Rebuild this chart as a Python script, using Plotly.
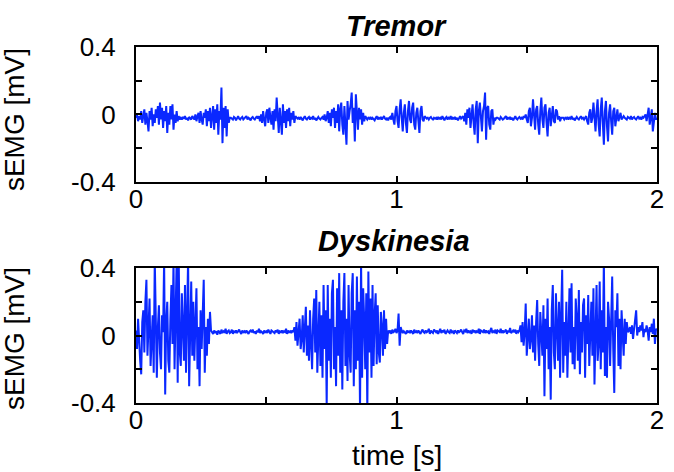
import numpy as np
import plotly.graph_objects as go
from plotly.subplots import make_subplots

# sampling interval of the read-off signals [s]
dt = 0.004

# Tremor sEMG [mV] (one value per dt)
tremor = [
    # burst 0.00-0.17 s
    -0.02, 0.00, -0.04, -0.01, -0.03, 0.02, -0.05, -0.01, 0.03, -0.06,
    0.01, -0.04, -0.10, 0.02, -0.03, 0.04, -0.07, 0.00, -0.05, 0.03,
    -0.02, 0.05, -0.06, 0.07, -0.03, 0.04, -0.08, 0.02, -0.04, 0.05,
    -0.11, 0.01, -0.06, 0.05, -0.03, 0.06, -0.09, 0.00, -0.05, 0.02,
    -0.04, -0.01, -0.03,
    # quiet
    -0.02, -0.03, -0.015, -0.025, -0.01, -0.03, -0.02, -0.035, -0.015, -0.02,
    -0.03, -0.01, -0.025,
    # burst 0.22-0.36 s
    -0.03, 0.00, -0.04, -0.01, 0.01, -0.05, 0.02, -0.03, -0.06, 0.01,
    -0.02, 0.03, -0.07, 0.02, -0.04, 0.04, -0.08, -0.01, 0.05, -0.09,
    0.03, -0.05, 0.06, -0.12, 0.02, -0.03, 0.16, -0.17, 0.04, -0.08,
    0.05, -0.13, 0.03, -0.05, -0.02,
    # quiet
    -0.02, -0.025, -0.03, -0.015, -0.02, -0.035, -0.02, -0.01, -0.025, -0.03,
    -0.02, -0.015, -0.03, -0.025, -0.02, -0.01, -0.03, -0.02, -0.025, -0.035,
    -0.02, -0.015, -0.025, -0.03, -0.02, -0.01, -0.025,
    # burst 0.47-0.62 s
    -0.01, -0.04, 0.00, -0.05, 0.02, -0.03, -0.07, 0.01, 0.03, -0.05,
    0.04, -0.02, -0.06, 0.02, -0.09, 0.03, -0.04, 0.10, -0.03, -0.11,
    0.04, -0.02, -0.12, 0.06, -0.05, 0.02, -0.08, 0.03, -0.04, 0.04,
    -0.07, 0.01, -0.03, 0.02, -0.05, -0.01, -0.02,
    # quiet
    -0.025, -0.02, -0.03, -0.015, -0.025, -0.035, -0.02, -0.01, -0.025, -0.03,
    -0.02, -0.015, -0.03, -0.02, -0.025, -0.01, -0.03, -0.02, -0.035, -0.02,
    -0.015, -0.025, -0.03, -0.02, -0.015,
    # burst 0.72-0.88 s
    -0.03, 0.00, -0.04, -0.02, 0.02, -0.05, 0.01, -0.07, 0.03, -0.02,
    0.04, -0.08, 0.02, -0.05, 0.06, -0.10, 0.03, 0.07, -0.06, -0.12,
    0.05, -0.04, -0.18, 0.08, -0.03, 0.02, 0.06, 0.13, -0.05, 0.04,
    -0.16, 0.12, -0.02, -0.09, 0.04, -0.03, 0.03, -0.06, 0.01, -0.04,
    -0.01,
    # quiet
    -0.02, -0.03, -0.02, -0.025, -0.015, -0.03, -0.02, -0.025, -0.035, -0.02,
    -0.01, -0.03, -0.02, -0.025, -0.015, -0.03, -0.02, -0.01, -0.025, -0.03,
    -0.02, -0.035, -0.02, -0.015, -0.03,
    # burst 0.98-1.11 s
    0.01, -0.03, -0.06, 0.02, 0.05, -0.04, -0.08, 0.03, 0.09, -0.02,
    -0.10, 0.01, 0.06, -0.05, -0.11, 0.02, 0.08, -0.03, -0.05, 0.04,
    0.07, -0.06, -0.09, 0.01, 0.04, -0.04, -0.11, 0.02, 0.05, -0.03,
    -0.04, -0.01, -0.02,
    # quiet
    -0.025, -0.02, -0.03, -0.02, -0.015, -0.025, -0.03, -0.02, -0.025, -0.02,
    -0.03, -0.015, -0.025, -0.02, -0.03, -0.01, -0.025, -0.035, -0.02, -0.015,
    -0.03, -0.02, -0.025, -0.01, -0.03, -0.02, -0.025, -0.015, -0.03, -0.02,
    -0.035, -0.02, -0.01, -0.025, -0.02,
    # burst 1.26-1.38 s
    -0.01, -0.04, 0.01, -0.06, 0.03, -0.02, 0.04, -0.08, 0.02, 0.06,
    -0.05, -0.12, 0.03, 0.08, -0.17, 0.02, 0.07, -0.04, -0.10, 0.02,
    0.05, 0.13, -0.15, 0.04, 0.05, -0.06, -0.09, 0.02, 0.03, -0.06,
    -0.02, -0.03, -0.02,
    # quiet
    -0.02, -0.025, -0.03, -0.015, -0.02, -0.03, -0.025, -0.02, -0.01, -0.03,
    -0.02, -0.025, -0.015, -0.03, -0.02, -0.035, -0.02, -0.01, -0.025, -0.03,
    -0.02, -0.015, -0.025, -0.02, -0.03, -0.01, -0.02,
    # burst 1.50-1.64 s
    0.00, -0.03, -0.05, 0.02, 0.04, -0.07, -0.02, 0.09, -0.04, -0.09,
    0.03, 0.05, -0.06, -0.12, 0.02, 0.10, -0.03, -0.08, 0.04, 0.06,
    -0.05, -0.13, 0.01, 0.04, -0.07, 0.02, 0.05, -0.04, -0.05, 0.03,
    0.02, -0.03, -0.01, -0.04, -0.02, -0.02,
    # quiet
    -0.02, -0.03, -0.02, -0.025, -0.015, -0.03, -0.02, -0.025, -0.01, -0.03,
    -0.02, -0.035, -0.02, -0.015, -0.025, -0.03, -0.02, -0.01, -0.025, -0.02,
    -0.03, -0.02,
    # burst 1.73-1.87 s
    -0.01, -0.04, -0.06, 0.01, 0.03, -0.05, -0.02, 0.07, -0.04, -0.10,
    0.02, 0.09, -0.06, -0.13, 0.03, 0.10, -0.05, -0.18, 0.02, 0.08,
    -0.07, -0.16, 0.01, 0.06, -0.04, -0.12, 0.02, 0.04, -0.07, -0.02,
    0.03, -0.04, -0.02, 0.01, -0.03, -0.02, -0.01,
    # quiet
    -0.02, -0.025, -0.03, -0.015, -0.02, -0.025, -0.01, -0.03, -0.02, -0.015,
    -0.025, -0.03, -0.02, -0.01, -0.025, -0.02, -0.03, -0.015, -0.02, -0.01,
    # end
    0.00, -0.04, 0.02, 0.04, -0.06, -0.02, 0.03, -0.10, -0.04, 0.01,
    -0.03, -0.02,
]

# Dyskinesia sEMG [mV] (one value per dt)
dyskinesia = [
    # burst 0.00-0.29 s
    0.03, -0.08, 0.10, -0.05, -0.15, -0.23, 0.08, 0.15, -0.10, 0.20,
    0.33, -0.12, 0.05, 0.22, -0.18, -0.06, 0.12, -0.22, 0.45, 0.10,
    -0.25, 0.05, 0.18, -0.10, -0.20, 0.12, 0.02, 0.45, -0.35, 0.08,
    0.20, -0.15, -0.22, 0.10, 0.30, -0.05, 0.45, -0.20, 0.15, 0.45,
    -0.28, 0.45, -0.10, -0.18, 0.25, 0.05, -0.15, 0.30, -0.22, 0.12,
    0.45, -0.30, 0.02, 0.32, -0.12, 0.20, -0.15, 0.08, 0.28, -0.20,
    0.05, -0.30, 0.15, -0.08, 0.10, 0.33, -0.22, 0.05, -0.12, 0.10,
    -0.05, 0.14, 0.03,
    # quiet
    0.02, 0.01, 0.03, 0.015, 0.025, 0.005, 0.03, 0.02, 0.01, 0.035,
    0.015, 0.025, 0.02, 0.04, 0.01, 0.025, 0.03, 0.015, 0.02, 0.035,
    0.01, 0.025, 0.02, 0.03, 0.015, 0.025, 0.035, 0.02, 0.01, 0.03,
    0.02, 0.025, 0.015, 0.03, 0.02, 0.01, 0.025, 0.03, 0.02, 0.035,
    0.015, 0.025, 0.01, 0.03, 0.02, 0.04, 0.015, 0.025, 0.02, 0.01,
    0.03, 0.02, 0.025, 0.015, 0.035, 0.02, 0.01, 0.03, 0.025, 0.02,
    0.015, 0.03, 0.02, 0.035, 0.01, 0.025, 0.02, 0.03, 0.015, 0.025,
    0.02, 0.04, 0.01, 0.03, 0.02, 0.025, 0.015, 0.03, 0.02,
    # burst 0.61-0.97 s
    0.05, -0.03, 0.08, -0.06, 0.02, 0.10, -0.08, -0.02, 0.12, -0.10,
    0.04, 0.17, -0.12, 0.06, -0.15, 0.15, -0.05, -0.20, 0.10, 0.22,
    -0.10, 0.27, -0.22, 0.05, 0.20, -0.18, 0.12, -0.25, 0.30, -0.08,
    0.15, -0.42, 0.30, -0.15, 0.10, -0.25, 0.25, 0.33, -0.20, 0.05,
    -0.30, 0.28, -0.12, 0.37, -0.22, 0.15, -0.32, 0.20, 0.37, -0.18,
    0.10, -0.27, 0.30, -0.10, -0.22, 0.25, 0.37, -0.30, 0.15, -0.20,
    0.35, -0.15, 0.20, -0.45, 0.45, -0.25, 0.28, 0.10, -0.20, 0.25,
    -0.45, 0.38, -0.10, 0.22, -0.25, 0.30, -0.18, 0.12, 0.25, -0.17,
    0.18, -0.10, -0.16, 0.14, 0.05, -0.12, 0.15, -0.08, 0.10, -0.05,
    0.03,
    # quiet
    0.02, 0.03, 0.01, 0.035, 0.02, 0.025, 0.04, 0.015, 0.03, 0.13,
    -0.06, 0.05, 0.03, 0.015, 0.025, 0.02, 0.01, 0.03, 0.02, 0.025,
    0.015, 0.03, 0.02, 0.01, 0.035, 0.02, 0.025, 0.015, 0.03, 0.02,
    0.01, 0.025, 0.035, 0.02, 0.015, 0.03, 0.02, 0.025, 0.04, 0.01,
    0.03, 0.02, 0.015, 0.035, 0.025, 0.02, 0.03, 0.01, 0.025, 0.04,
    0.015, 0.03, 0.02, 0.035, 0.01, 0.025, 0.03, 0.02, 0.015, 0.035,
    0.02, 0.025, 0.01, 0.03, 0.02, 0.015, 0.03, 0.02, 0.025, 0.035,
    0.02, 0.01, 0.03, 0.025, 0.04, 0.015, 0.03, 0.02, 0.025, 0.01,
    0.035, 0.02, 0.03, 0.015, 0.025, 0.02, 0.04, 0.01, 0.03, 0.025,
    0.02, 0.035, 0.015, 0.03, 0.02, 0.025, 0.01, 0.03, 0.045, 0.015,
    0.025, 0.02, 0.035, 0.01, 0.03, 0.025, 0.02, 0.04, 0.015, 0.03,
    0.02, 0.025, 0.035, 0.01, 0.03, 0.02, 0.045, 0.015, 0.025, 0.03,
    0.02, 0.035, 0.01, 0.03, 0.02,
    # burst 1.47-1.89 s
    0.03, 0.06, -0.04, 0.08, -0.06, 0.02, 0.19, -0.12, 0.05, 0.10,
    -0.08, -0.02, 0.12, -0.10, 0.06, -0.15, 0.08, 0.21, -0.05, -0.18,
    0.14, 0.02, -0.12, 0.18, -0.36, 0.10, -0.08, 0.22, -0.20, 0.05,
    -0.38, 0.15, 0.30, -0.10, -0.20, 0.25, 0.05, -0.15, 0.20, -0.25,
    0.12, 0.39, -0.22, 0.08, -0.12, 0.20, -0.25, 0.15, 0.28, -0.10,
    0.31, -0.17, 0.05, -0.20, 0.22, 0.10, -0.15, 0.27, -0.23, 0.08,
    -0.10, 0.18, 0.22, -0.25, 0.12, -0.05, 0.24, -0.18, 0.05, 0.20,
    -0.12, 0.28, -0.29, 0.10, 0.30, -0.15, -0.05, 0.32, -0.20, 0.15,
    -0.10, 0.45, -0.24, 0.05, -0.25, 0.20, 0.10, -0.18, 0.22, 0.35,
    -0.08, -0.34, 0.15, 0.05, 0.25, -0.18, 0.10, -0.20, 0.15, -0.05,
    -0.12, 0.10, -0.05, 0.08, 0.02,
    # end
    0.03, 0.05, 0.01, 0.06, -0.02, 0.04, 0.08, 0.15, 0.00, 0.05,
    0.02, 0.06, 0.03, 0.08, -0.01, 0.04, 0.02, 0.06, 0.03, -0.03,
    0.05, 0.02, 0.07, 0.01, 0.10, -0.05, 0.04, 0.03,
]

titles = ["Tremor", "Dyskinesia"]
x_ticks = [0, 0.5, 1, 1.5, 2]
x_ticktext = ["0", "", "1", "", "2"]
y_ticks = [-0.4, -0.2, 0, 0.2, 0.4]
y_ticktext = ["-0.4", "", "0", "", "0.4"]
y_label = "sEMG [mV]"
x_label = "time [s]"

t_tremor = np.arange(len(tremor)) * dt
t_dysk = np.arange(len(dyskinesia)) * dt

line_color = "rgb(10,40,255)"
FONT = "Arial, Liberation Sans, Helvetica, sans-serif"

fig = make_subplots(rows=2, cols=1, vertical_spacing=0.242)
fig.add_trace(go.Scatter(x=t_tremor, y=tremor, mode="lines",
                         line=dict(color=line_color, width=2)), row=1, col=1)
fig.add_trace(go.Scatter(x=t_dysk, y=dyskinesia, mode="lines",
                         line=dict(color=line_color, width=2)), row=2, col=1)

axis_common = dict(showline=True, linecolor="black", linewidth=2, mirror="ticks",
                   ticks="inside", ticklen=6, tickwidth=2, tickcolor="black",
                   showgrid=False, zeroline=False,
                   tickfont=dict(family=FONT, size=26, color="black"))

for r in (1, 2):
    fig.update_xaxes(range=[0, 2], tickvals=x_ticks, ticktext=x_ticktext,
                     ticklabelstandoff=-7, row=r, col=1, **axis_common)
    fig.update_yaxes(range=[-0.4, 0.4], tickvals=y_ticks, ticktext=y_ticktext,
                     ticklabelstandoff=13, row=r, col=1, **axis_common)

fig.update_layout(
    width=674, height=472,
    margin=dict(l=136, r=10, t=47, b=69),
    paper_bgcolor="white", plot_bgcolor="white",
    showlegend=False,
    font=dict(family=FONT, color="black"),
)
fig.update_yaxes(domain=[0.621, 1.0], row=1, col=1)
fig.update_yaxes(domain=[0.0, 0.379], row=2, col=1)

annots = [
    dict(text="<b><i>" + titles[0] + "</i></b>", x=0.5, y=1.058, size=29, angle=0),
    dict(text="<b><i>" + titles[1] + "</i></b>", x=0.496, y=0.454, size=29, angle=0),
    dict(text=y_label, x=-0.232, y=0.795, size=28, angle=-90),
    dict(text=y_label, x=-0.232, y=0.18, size=28, angle=-90),
    dict(text=x_label, x=0.5, y=-0.147, size=28, angle=0),
]
for a in annots:
    fig.add_annotation(text=a["text"], x=a["x"], y=a["y"], xref="paper", yref="paper",
                       xanchor="center", yanchor="middle", showarrow=False,
                       textangle=a["angle"],
                       font=dict(family=FONT, size=a["size"], color="black"))

fig.write_html("out.html")
